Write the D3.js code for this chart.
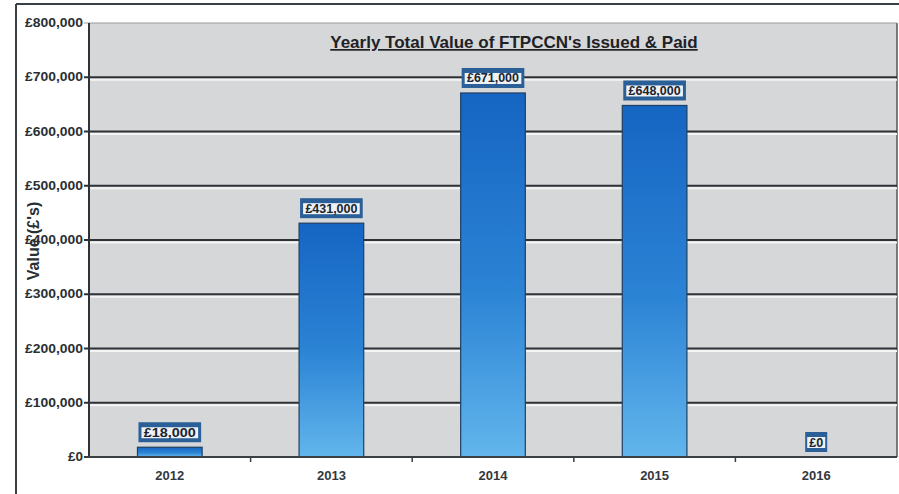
<!DOCTYPE html>
<html>
<head>
<meta charset="utf-8">
<script src="https://cdn.jsdelivr.net/npm/d3@7"></script>
<style>
  body { margin: 0; background: #fff; }
  text { font-family: "Liberation Sans", Arial, sans-serif; }
</style>
</head>
<body>
<svg id="chart" width="899" height="494"></svg>
<script>
// Data
var years = ["2012", "2013", "2014", "2015", "2016"];
var values = [18000, 431000, 671000, 648000, 0];
var yTicks = [0, 100000, 200000, 300000, 400000, 500000, 600000, 700000, 800000];

var svg = d3.select("#chart"),
  width = +svg.attr("width"),
  height = +svg.attr("height");

var margin = {left: 89, right: 2, top: 23, bottom: 37};
var x0 = margin.left, x1 = width - margin.right;
var y0 = height - margin.bottom, y1 = margin.top;

var x = d3.scaleBand().domain(years).range([x0, x1]).paddingInner(0.6).paddingOuter(0.3);
var y = d3.scaleLinear().domain([0, 800000]).range([y0, y1]);
var money = function(v) { return "£" + d3.format(",")(v); };

// gradient for bars
var defs = svg.append("defs");
var grad = defs.append("linearGradient")
  .attr("id", "barGrad")
  .attr("x1", 0).attr("y1", 0).attr("x2", 0).attr("y2", 1);
grad.append("stop").attr("offset", "0%").attr("stop-color", "#1565c2");
grad.append("stop").attr("offset", "55%").attr("stop-color", "#2c84d5");
grad.append("stop").attr("offset", "100%").attr("stop-color", "#62b6ec");

// outer frame
svg.append("line").attr("x1", 16).attr("x2", width).attr("y1", 4).attr("y2", 4)
  .attr("stroke", "#3a3f44").attr("stroke-width", 2);
svg.append("line").attr("x1", 16).attr("x2", 16).attr("y1", 4).attr("y2", height)
  .attr("stroke", "#3a3f44").attr("stroke-width", 2);

// plot background
svg.append("rect")
  .attr("x", x0).attr("y", y1)
  .attr("width", x1 - x0).attr("height", y0 - y1)
  .attr("fill", "#d5d7d9");
svg.append("line").attr("x1", x1).attr("x2", x1).attr("y1", y1).attr("y2", y0)
  .attr("stroke", "#555").attr("stroke-width", 1.5);

// gridlines
var grid = svg.append("g");
grid.selectAll("line.hi")
  .data(yTicks.filter(function(d) { return d > 0 && d < 800000; }))
  .enter().append("line")
  .attr("class", "hi")
  .attr("x1", x0).attr("x2", x1)
  .attr("y1", function(d) { return y(d) + 2.5; })
  .attr("y2", function(d) { return y(d) + 2.5; })
  .attr("stroke", "#f4f4f4").attr("stroke-width", 2);
grid.selectAll("line.g")
  .data(yTicks.filter(function(d) { return d > 0; }))
  .enter().append("line")
  .attr("class", "g")
  .attr("x1", x0 - 5).attr("x2", x1)
  .attr("y1", function(d) { return y(d); })
  .attr("y2", function(d) { return y(d); })
  .attr("stroke", function(d) { return d === 800000 ? "#9a9a9a" : "#2e3236"; })
  .attr("stroke-width", function(d) { return d === 800000 ? 1 : 2; });

// bars
svg.append("g").selectAll("rect")
  .data(values)
  .enter().append("rect")
  .attr("x", function(d, i) { return x(years[i]); })
  .attr("y", function(d) { return y(d); })
  .attr("width", x.bandwidth())
  .attr("height", function(d) { return y0 - y(d); })
  .attr("fill", "url(#barGrad)")
  .attr("stroke", "#1f3f63")
  .attr("stroke-width", 1.2);

// data labels
var lab = svg.append("g").selectAll("g")
  .data(values)
  .enter().append("g")
  .attr("transform", function(d, i) {
    var cx = x(years[i]) + x.bandwidth() / 2;
    return "translate(" + cx + "," + (y(d) - 15) + ")";
  });
lab.append("rect")
  .attr("x", function(d) { return d === 0 ? -11 : -x.bandwidth() / 2 + 1; })
  .attr("width", function(d) { return d === 0 ? 22 : x.bandwidth() - 2; })
  .attr("y", -10).attr("height", 20)
  .attr("fill", "#2b5f98");
lab.append("rect")
  .attr("x", function(d) { return d === 0 ? -9 : -x.bandwidth() / 2 + 4; })
  .attr("width", function(d) { return d === 0 ? 18 : x.bandwidth() - 8; })
  .attr("y", -5).attr("height", 11)
  .attr("fill", "#eef2f6");
lab.append("text")
  .attr("text-anchor", "middle")
  .attr("y", 4.5)
  .attr("font-size", "12px")
  .attr("font-weight", "bold")
  .attr("fill", "#1b2530")
  .attr("textLength", function(d) { return d === 0 ? 14 : 52; })
  .attr("lengthAdjust", "spacingAndGlyphs")
  .text(function(d) { return money(d); });

// y axis
svg.append("line").attr("x1", x0).attr("x2", x0).attr("y1", y1).attr("y2", y0 + 1)
  .attr("stroke", "#2e3236").attr("stroke-width", 2);
svg.append("g").selectAll("text")
  .data(yTicks)
  .enter().append("text")
  .attr("x", x0 - 6)
  .attr("y", function(d) { return y(d) + 4; })
  .attr("text-anchor", "end")
  .attr("font-size", "12px")
  .attr("font-weight", "bold")
  .attr("fill", "#2a2f33")
  .attr("textLength", function(d) { return d === 0 ? 15 : 58; })
  .attr("lengthAdjust", "spacingAndGlyphs")
  .text(money);

// x axis
svg.append("line").attr("x1", x0 - 5).attr("x2", x1).attr("y1", y0).attr("y2", y0)
  .attr("stroke", "#3a3f44").attr("stroke-width", 2);
var step = x.step();
svg.append("g").selectAll("line")
  .data(years.slice(1))
  .enter().append("line")
  .attr("x1", function(d) { return x(d) - step * 0.3; })
  .attr("x2", function(d) { return x(d) - step * 0.3; })
  .attr("y1", y0).attr("y2", y0 + 5)
  .attr("stroke", "#3a3f44").attr("stroke-width", 1.5);
svg.append("g").selectAll("text")
  .data(years)
  .enter().append("text")
  .attr("x", function(d) { return x(d) + x.bandwidth() / 2; })
  .attr("y", y0 + 23)
  .attr("text-anchor", "middle")
  .attr("font-size", "13px")
  .attr("font-weight", "bold")
  .attr("fill", "#33383c")
  .text(function(d) { return d; });

// y title
svg.append("text")
  .attr("transform", "translate(39," + 241 + ") rotate(-90)")
  .attr("text-anchor", "middle")
  .attr("font-size", "16px")
  .attr("font-weight", "bold")
  .attr("fill", "#2a2f33")
  .text("Value (£'s)");

// title
svg.append("text")
  .attr("x", 514)
  .attr("y", 48)
  .attr("text-anchor", "middle")
  .attr("font-size", "17px")
  .attr("font-weight", "bold")
  .attr("text-decoration", "underline")
  .attr("fill", "#1e2226")
  .text("Yearly Total Value of FTPCCN's Issued & Paid");
</script>
</body>
</html>
